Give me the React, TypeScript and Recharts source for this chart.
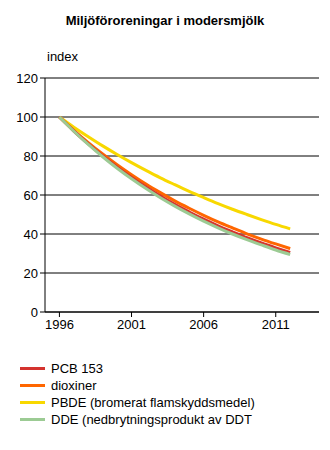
import { LineChart, Line, XAxis, YAxis, CartesianGrid } from "recharts";

const years = [1996, 1997, 1998, 1999, 2000, 2001, 2002, 2003, 2004, 2005, 2006, 2007, 2008, 2009, 2010, 2011, 2012];
const pcb153 = [100, 92.8, 86.2, 80.0, 74.3, 69.0, 64.1, 59.5, 55.2, 51.3, 47.6, 44.2, 41.1, 38.1, 35.4, 32.9, 30.5];
const dioxiner = [100, 93.2, 86.9, 81.0, 75.5, 70.4, 65.6, 61.2, 57.0, 53.2, 49.6, 46.2, 43.1, 40.1, 37.4, 34.9, 32.5];
const pbde = [100, 94.8, 89.9, 85.2, 80.8, 76.6, 72.6, 68.8, 65.3, 61.9, 58.7, 55.6, 52.7, 50.0, 47.4, 44.9, 42.6];
const dde = [100, 92.7, 85.9, 79.6, 73.7, 68.3, 63.3, 58.6, 54.3, 50.3, 46.6, 43.2, 40.0, 37.1, 34.4, 31.8, 29.5];

const xTicks = [1996, 2001, 2006, 2011];
const yTicks = [0, 20, 40, 60, 80, 100, 120];

const series = [
  { key: "pcb", name: "PCB 153", color: "#d4332e" },
  { key: "diox", name: "dioxiner", color: "#ff6600" },
  { key: "pbde", name: "PBDE (bromerat flamskyddsmedel)", color: "#f8d800" },
  { key: "dde", name: "DDE (nedbrytningsprodukt av DDT", color: "#9ccb94" },
];

const data = years.map((y, i) => ({
  year: y,
  pcb: pcb153[i],
  diox: dioxiner[i],
  pbde: pbde[i],
  dde: dde[i],
}));

const font = "Arial, 'Liberation Sans', sans-serif";
// draw order: yellow and orange under, green last
const drawOrder = ["pbde", "diox", "pcb", "dde"];

export default function App() {
  return (
    <div style={{ position: "absolute", left: 0, top: 0, width: 330, height: 450, background: "#fff", fontFamily: font }}>
      <div style={{ position: "absolute", top: 13, left: 0, width: 330, textAlign: "center", fontWeight: "bold", fontSize: 13 }}>
        Miljöföroreningar i modersmjölk
      </div>
      <div style={{ position: "absolute", top: 49, left: 47, fontSize: 13 }}>index</div>
      <LineChart width={330} height={450} data={data} margin={{ top: 78, right: 11, left: 0, bottom: 108 }}>
        <CartesianGrid vertical={false} stroke="#000" strokeWidth={1} />
        <XAxis
          dataKey="year"
          type="number"
          domain={[1995, 2014]}
          ticks={xTicks}
          height={30}
          tickSize={5}
          tickMargin={3}
          stroke="#000"
          tick={{ fill: "#000", fontSize: 13, fontFamily: font }}
        />
        <YAxis
          domain={[0, 120]}
          ticks={yTicks}
          width={45}
          tickSize={5}
          tickMargin={2}
          stroke="#000"
          tick={{ fill: "#000", fontSize: 13, fontFamily: font }}
        />
        {drawOrder.map((k) => {
          const s = series.find((x) => x.key === k)!;
          return (
            <Line
              key={k}
              type="monotone"
              dataKey={k}
              name={s.name}
              stroke={s.color}
              strokeWidth={3}
              dot={false}
              isAnimationActive={false}
            />
          );
        })}
      </LineChart>
      <div style={{ position: "absolute", top: 360, left: 20 }}>
        {series.map((s) => (
          <div key={s.key} style={{ display: "flex", alignItems: "center", height: 17, fontSize: 13 }}>
            <span style={{ display: "inline-block", width: 25, height: 3, background: s.color, marginRight: 6 }} />
            <span>{s.name}</span>
          </div>
        ))}
      </div>
    </div>
  );
}
